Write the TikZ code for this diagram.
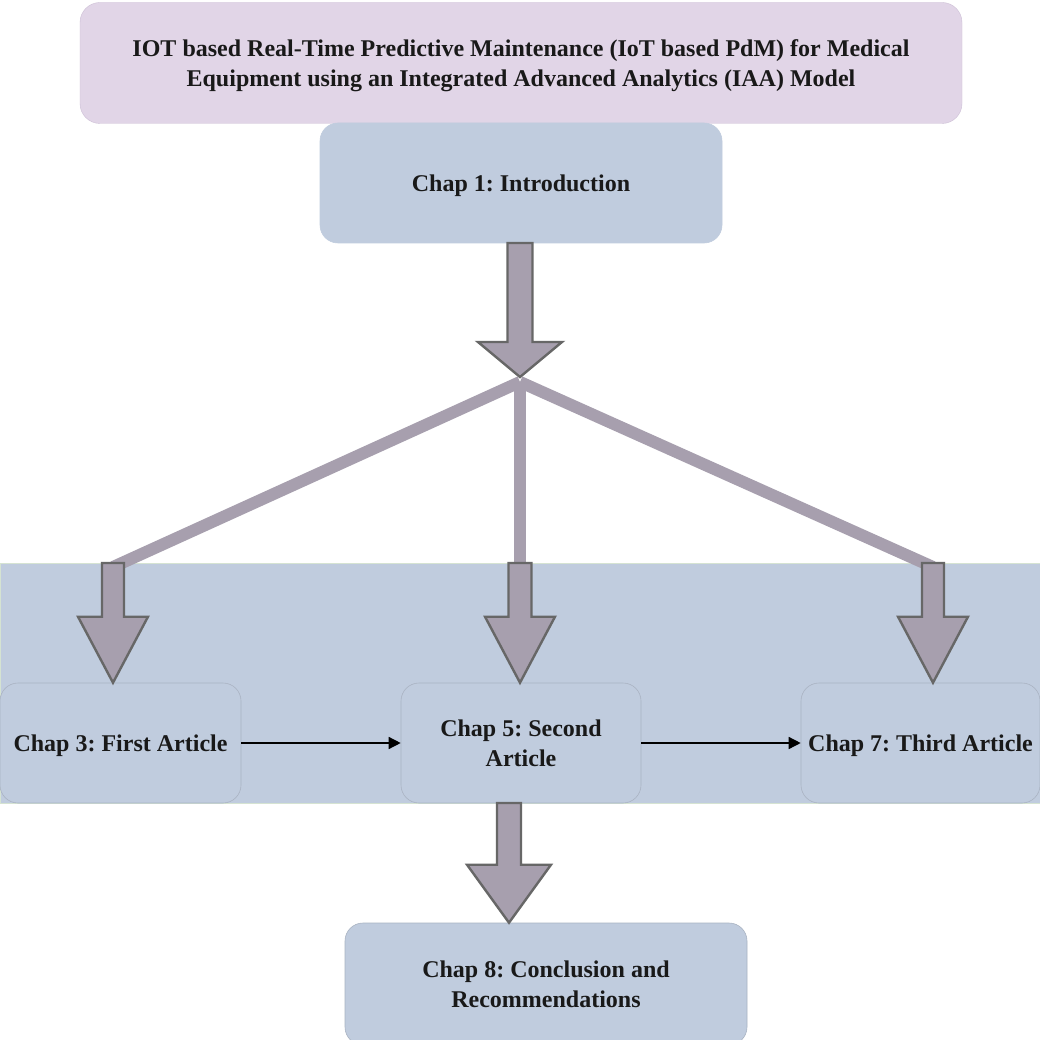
\documentclass[tikz,border=0pt]{standalone}
\usepackage{fontspec}
\setmainfont{Liberation Serif}
\usetikzlibrary{calc,arrows.meta}

\definecolor{titlefill}{HTML}{E1D5E7}
\definecolor{titleline}{HTML}{CDBFD6}
\definecolor{chapfill}{HTML}{C0CCDE}
\definecolor{chapline}{HTML}{A9B3C2}
\definecolor{bandline}{HTML}{D5E3D2}
\definecolor{fatfill}{HTML}{A79FAE}
\definecolor{fatline}{HTML}{676767}

\tikzset{
  boxfont/.style={font=\fontsize{24}{30.5}\selectfont\bfseries\frenchspacing,
    text=black!90, text depth=0pt},
  titlebox/.style={draw=titleline, fill=titlefill, rounded corners=20pt,
    minimum width=882pt, minimum height=121pt, align=center, boxfont},
  chapbox/.style={draw=chapline, line width=0.6pt, fill=chapfill, rounded corners=18pt,
    align=center, boxfont},
  band/.style={draw=bandline, fill=chapfill},
  fatarrowstyle/.style={draw=fatline, fill=fatfill, line width=2.4pt, line join=miter},
  branch/.style={draw=fatfill, line width=12pt},
  link/.style={draw=black, line width=1.4pt, -{Triangle[length=12pt,width=12pt]}}
}

% vertical block arrow: start, tip, shaft half width, head half width, head length
\newcommand{\fatarrow}[5]{%
  \draw[fatarrowstyle] let \p1=(#1), \p2=(#2) in
    (\x1-#3,\y1) -- (\x1+#3,\y1) -- (\x1+#3,\y2+#5) -- (\x1+#4,\y2+#5)
    -- (\x2,\y2) -- (\x1-#4,\y2+#5) -- (\x1-#3,\y2+#5) -- cycle;}

\begin{document}
\begin{tikzpicture}[x=1pt,y=-1pt]
  \clip (0,0) rectangle (1040,1040);
  \fill[white] (0,0) rectangle (1040,1040);

  % background band holding the three articles
  \path[band] (0,563) rectangle (1040,803);

  % boxes
  \node[titlebox] (title) at (521,63)
    {IOT based Real-Time Predictive Maintenance (IoT based PdM) for Medical\\
     Equipment using an Integrated Advanced Analytics (IAA) Model};
  \node[chapbox, draw=chapfill, minimum width=402pt, minimum height=120pt] (c1) at (521,183) {Chap 1: Introduction};
  \node[chapbox, minimum width=241pt, minimum height=120pt] (c3) at (120.5,743) {Chap 3: First Article};
  \node[chapbox, minimum width=240pt, minimum height=120pt] (c5) at (521,743) {Chap 5: Second\\Article};
  \node[chapbox, minimum width=239pt, minimum height=120pt] (c7) at (920.5,743) {Chap 7: Third Article};
  \node[chapbox, minimum width=402pt, minimum height=122pt] (c8) at (546,984) {Chap 8: Conclusion and\\Recommendations};

  % arrow anchor points
  \coordinate (hubtip) at (520,377);
  \coordinate (hub) at (520,382);
  \coordinate (s3) at (113,563);
  \coordinate (s5) at (520,563);
  \coordinate (s7) at (933,563);
  \coordinate (s8) at (509,803);

  % branches fanning out to the articles
  \draw[branch] (hub) -- ($(s3)+(0,4)$);
  \draw[branch] (hub) -- (s5);
  \draw[branch] (hub) -- ($(s7)+(0,4)$);

  % block arrows
  \fatarrow{520,243}{hubtip}{12.5pt}{42pt}{35pt}
  \fatarrow{s3}{s3 |- c3.north}{11pt}{35pt}{66pt}
  \fatarrow{s5}{s5 |- c5.north}{11.5pt}{35pt}{66pt}
  \fatarrow{s7}{s7 |- c7.north}{11pt}{35pt}{66pt}
  \fatarrow{s8}{s8 |- c8.north}{12pt}{42pt}{58pt}

  % links between the articles
  \draw[link] (c3.east) -- (c5.west);
  \draw[link] (c5.east) -- (c7.west);
\end{tikzpicture}
\end{document}
